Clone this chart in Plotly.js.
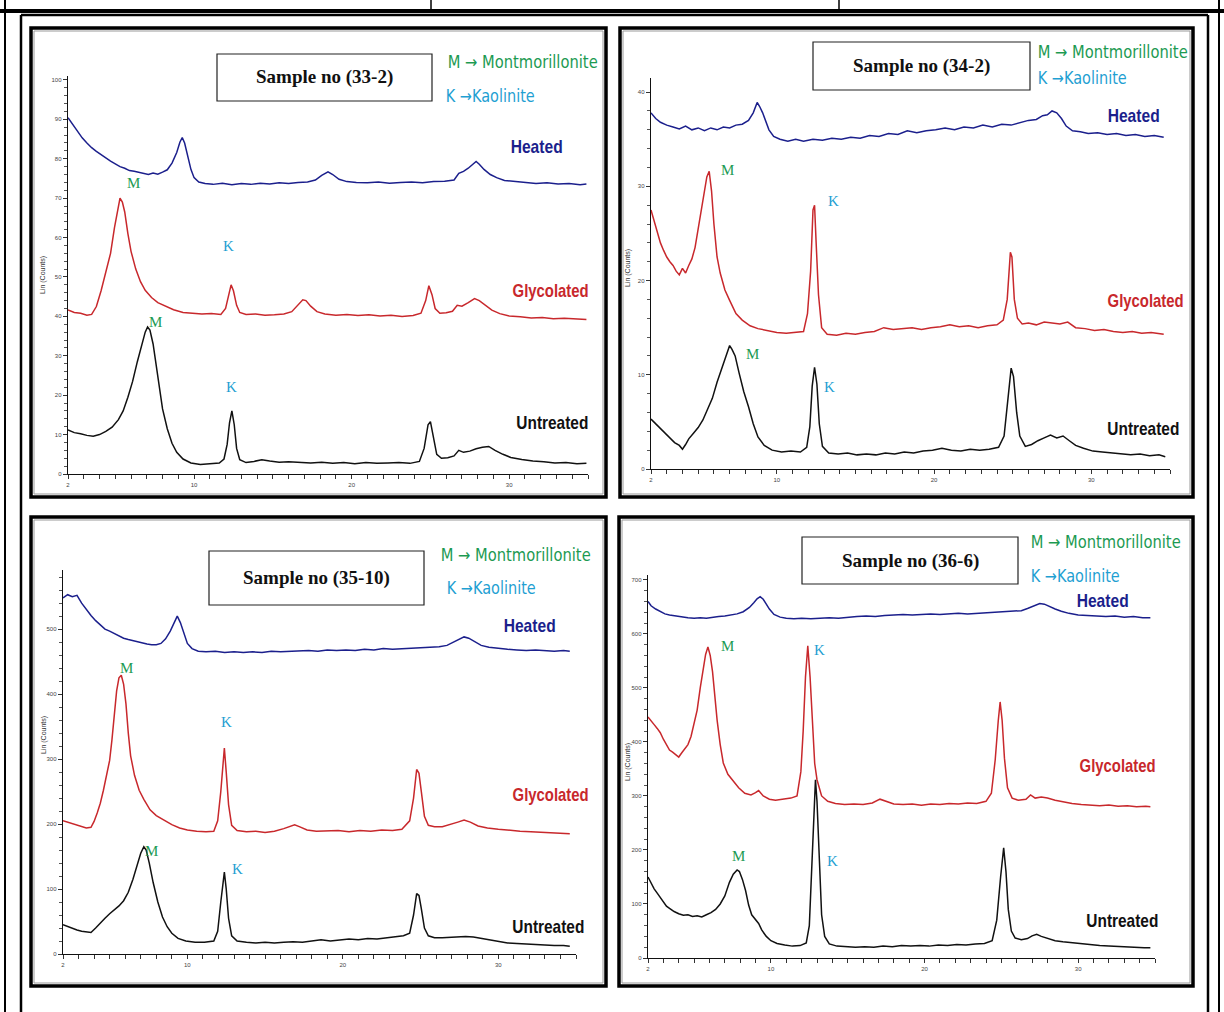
<!DOCTYPE html>
<html><head><meta charset="utf-8">
<script src="https://cdn.plot.ly/plotly-3.0.1.min.js"></script>
<style>html,body{margin:0;padding:0;background:#fff;}#chart{width:1224px;height:1012px;}</style>
</head><body><div id="chart"></div>
<script>
// ---------- DATA (2θ degrees, Lin counts) ----------
const sampleNames = ["Sample no (33-2)", "Sample no (34-2)", "Sample no (35-10)", "Sample no (36-6)"];
const seriesNames = ["Heated", "Glycolated", "Untreated"];
const xTickVals = [2, 10, 20, 30];
const xTickText = ["2", "10", "20", "30"];

// Panel 1 (33-2)
const p1HeatX = [2.0,2.3,2.6,2.9,3.2,3.5,3.8,4.1,4.4,4.7,5.0,5.3,5.6,5.9,6.2,6.5,6.8,7.1,7.4,7.7,8.0,8.3,8.6,8.9,9.1,9.25,9.4,9.6,9.8,10.0,10.3,10.7,11.2,11.8,12.4,13.0,13.6,14.2,14.8,15.4,16.0,16.6,17.2,17.7,18.1,18.5,18.8,19.2,19.7,20.3,21.0,21.7,22.4,23.1,23.8,24.5,25.2,25.9,26.5,26.8,27.1,27.4,27.7,27.9,28.1,28.4,28.8,29.2,29.7,30.3,31.0,31.7,32.4,33.1,33.8,34.5,34.9];
const p1HeatY = [90.4,88.6,86.9,85.3,84.0,82.8,81.9,81.0,80.1,79.4,78.7,78.0,77.6,77.0,76.8,76.5,76.3,76.0,76.4,76.1,76.6,77.2,78.9,81.6,84.2,85.4,84.0,80.5,77.3,75.2,74.1,73.7,73.5,73.8,73.4,73.7,73.5,73.8,73.6,73.9,73.7,74.0,74.1,74.6,75.8,76.7,76.0,74.8,74.2,74.0,73.9,74.1,73.8,74.0,74.1,73.9,74.2,74.3,74.6,76.3,76.8,77.6,78.6,79.3,78.6,77.3,76.0,75.2,74.5,74.3,74.0,73.7,73.9,73.6,73.7,73.4,73.6];
const p1GlyX = [2.0,2.4,2.8,3.2,3.5,3.8,4.1,4.4,4.7,4.95,5.15,5.3,5.45,5.6,5.8,6.0,6.3,6.6,6.9,7.3,7.7,8.2,8.7,9.3,9.9,10.5,11.1,11.7,12.0,12.2,12.35,12.5,12.7,12.9,13.3,13.9,14.5,15.1,15.7,16.2,16.6,16.9,17.1,17.4,17.8,18.3,19.0,19.7,20.4,21.1,21.8,22.5,23.2,23.9,24.4,24.7,24.9,25.1,25.3,25.6,26.0,26.4,26.7,27.0,27.4,27.8,28.1,28.5,28.9,29.4,30.0,30.7,31.4,32.1,32.8,33.5,34.2,34.9];
const p1GlyY = [41.6,41.0,40.8,40.3,40.5,42.5,46.5,51.0,56.0,62.5,67.0,70.0,69.0,66.5,61.0,56.5,52.0,48.8,46.6,44.8,43.5,42.5,41.7,41.0,40.8,40.6,40.7,40.5,42.0,45.5,48.0,46.5,42.8,41.0,40.5,40.6,40.3,40.4,40.6,41.2,42.8,44.2,44.0,42.6,41.2,40.6,40.3,40.5,40.2,40.4,40.1,40.3,40.0,40.2,40.8,44.0,47.8,45.5,42.0,40.8,40.9,41.3,42.8,42.6,43.5,44.5,44.0,42.8,41.6,40.7,40.1,39.9,39.6,39.7,39.4,39.5,39.3,39.2];
const p1UntX = [2.0,2.4,2.8,3.2,3.6,4.0,4.4,4.8,5.2,5.5,5.8,6.1,6.4,6.7,6.9,7.05,7.2,7.4,7.6,7.8,8.0,8.3,8.6,8.9,9.3,9.8,10.4,11.0,11.6,11.9,12.1,12.25,12.4,12.55,12.7,12.9,13.3,13.8,14.3,14.8,15.4,16.0,16.7,17.4,18.1,18.8,19.5,20.2,20.9,21.6,22.3,23.0,23.7,24.3,24.6,24.85,25.0,25.2,25.4,25.7,26.1,26.5,26.8,27.1,27.5,27.9,28.3,28.7,29.1,29.6,30.1,30.8,31.5,32.2,32.9,33.6,34.3,34.9];
const p1UntY = [11.2,10.5,10.2,9.8,9.6,10.0,10.8,11.9,13.8,16.0,19.5,23.5,28.5,33.0,36.0,37.3,36.5,33.0,27.5,21.5,16.5,11.5,7.8,5.5,3.8,2.8,2.4,2.6,2.8,3.8,7.5,13.0,16.0,12.5,6.5,3.6,2.9,3.2,3.6,3.3,3.0,3.1,2.9,2.8,3.0,2.7,2.9,2.6,2.9,2.7,2.8,2.9,2.7,3.2,6.5,12.5,13.3,9.0,5.0,4.0,4.1,4.6,6.0,5.5,5.8,6.4,6.8,7.0,6.0,5.0,4.2,3.7,3.3,3.1,2.8,2.9,2.6,2.7];

// Panel 2 (34-2)
const p2HeatX = [2.0,2.3,2.6,3.0,3.4,3.8,4.2,4.6,5.0,5.4,5.8,6.2,6.6,7.0,7.4,7.8,8.2,8.5,8.75,8.9,9.1,9.3,9.5,9.8,10.2,10.7,11.2,11.7,12.3,12.9,13.5,14.1,14.7,15.3,15.9,16.5,17.1,17.7,18.3,18.9,19.5,20.1,20.7,21.3,21.9,22.5,23.1,23.7,24.3,24.9,25.5,26.0,26.5,26.9,27.2,27.5,27.8,28.1,28.4,28.8,29.3,29.8,30.4,31.0,31.6,32.2,32.8,33.4,34.0,34.6];
const p2HeatY = [37.8,37.2,36.8,36.5,36.3,36.1,36.4,36.0,36.2,35.9,36.2,36.0,36.3,36.2,36.5,36.6,37.0,37.8,38.9,38.5,37.8,36.9,36.0,35.3,35.0,34.8,35.0,34.8,35.0,34.9,35.1,35.0,35.2,35.1,35.4,35.3,35.6,35.5,35.9,35.7,35.9,36.0,36.2,36.0,36.3,36.2,36.5,36.3,36.6,36.5,36.8,37.0,37.1,37.5,37.6,38.0,37.8,37.2,36.4,35.9,35.8,35.6,35.7,35.5,35.6,35.4,35.5,35.3,35.4,35.2];
const p2GlyX = [2.0,2.2,2.4,2.6,2.8,3.0,3.2,3.4,3.6,3.8,4.0,4.2,4.4,4.6,4.8,5.0,5.2,5.4,5.55,5.7,5.85,6.0,6.2,6.4,6.7,7.0,7.4,7.8,8.3,8.8,9.4,10.0,10.6,11.2,11.7,11.95,12.15,12.3,12.4,12.5,12.65,12.85,13.2,13.8,14.4,15.0,15.6,16.2,16.8,17.4,18.0,18.6,19.2,19.8,20.4,21.0,21.6,22.2,22.8,23.4,24.0,24.4,24.65,24.85,24.95,25.1,25.3,25.6,26.0,26.5,27.0,27.5,28.0,28.5,29.0,29.6,30.2,30.8,31.4,32.0,32.6,33.2,33.8,34.6];
const p2GlyY = [27.5,26.3,25.0,24.0,23.2,22.5,22.0,21.6,21.0,20.6,21.3,20.8,21.6,22.3,23.5,25.5,27.8,29.5,31.0,31.6,29.5,26.0,22.5,20.8,19.0,17.9,16.5,15.8,15.2,14.9,14.7,14.5,14.4,14.5,14.6,16.5,21.0,27.5,28.0,24.0,18.5,15.0,14.3,14.2,14.4,14.3,14.5,14.6,15.0,14.8,14.9,15.0,14.8,15.0,15.1,15.3,15.1,15.2,15.0,15.2,15.3,15.8,18.0,23.0,22.5,18.0,16.0,15.4,15.5,15.3,15.6,15.5,15.4,15.6,15.0,14.9,14.7,14.8,14.6,14.5,14.6,14.4,14.5,14.3];
const p2UntX = [2.0,2.3,2.6,2.9,3.2,3.5,3.8,4.0,4.2,4.4,4.7,5.0,5.3,5.6,5.9,6.2,6.5,6.8,7.0,7.15,7.35,7.6,7.9,8.2,8.5,8.8,9.2,9.7,10.3,10.9,11.5,11.9,12.1,12.25,12.4,12.55,12.7,12.9,13.3,13.9,14.5,15.1,15.7,16.3,16.9,17.5,18.1,18.7,19.3,19.9,20.5,21.1,21.7,22.3,22.9,23.5,24.1,24.45,24.7,24.9,25.05,25.25,25.45,25.8,26.2,26.6,27.0,27.4,27.8,28.2,28.6,29.0,29.5,30.1,30.7,31.3,31.9,32.5,33.1,33.7,34.3,34.7];
const p2UntY = [5.3,4.8,4.3,3.9,3.4,2.8,2.5,2.1,2.6,3.2,3.8,4.4,5.2,6.3,7.5,9.2,10.6,12.2,13.1,12.7,12.0,10.2,8.2,6.6,4.8,3.4,2.5,2.0,1.8,1.9,1.8,2.3,4.5,8.8,10.8,9.0,4.8,2.4,1.7,1.6,1.7,1.5,1.6,1.5,1.7,1.6,1.8,1.7,1.9,2.0,2.2,2.0,1.9,2.1,2.0,2.1,2.3,3.5,7.5,10.7,9.8,6.0,3.5,2.4,2.6,3.0,3.3,3.6,3.3,3.5,3.0,2.5,2.2,1.9,1.8,1.7,1.6,1.5,1.6,1.4,1.5,1.3];

// Panel 3 (35-10)
const p3HeatX = [2.0,2.3,2.6,2.9,3.2,3.5,3.8,4.1,4.4,4.7,5.0,5.3,5.6,5.9,6.2,6.5,6.8,7.1,7.4,7.7,8.0,8.3,8.6,8.9,9.15,9.35,9.55,9.75,10.0,10.3,10.7,11.2,11.8,12.4,13.0,13.6,14.2,14.8,15.4,16.0,16.6,17.2,17.8,18.4,19.0,19.6,20.2,20.8,21.4,22.0,22.6,23.2,23.8,24.4,25.0,25.6,26.2,26.7,27.1,27.5,27.8,28.1,28.5,28.9,29.4,30.0,30.6,31.2,31.8,32.4,33.0,33.6,34.2,34.6];
const p3HeatY = [548,553,550,552,540,530,521,513,506,500,497,493,490,486,484,482,480,478,477,476,476,478,485,497,510,520,510,494,478,470,466,465,466,464,465,464,465,464,466,465,466,466,467,466,468,467,468,467,469,468,470,469,470,470,471,472,473,475,480,485,488,486,480,475,472,470,469,468,467,468,467,466,467,466];
const p3GlyX = [2.0,2.3,2.6,2.9,3.2,3.5,3.8,4.0,4.2,4.4,4.6,4.8,5.0,5.15,5.3,5.45,5.6,5.75,5.9,6.05,6.2,6.35,6.6,6.9,7.2,7.6,8.0,8.5,9.0,9.5,10.0,10.6,11.2,11.7,11.95,12.15,12.3,12.38,12.5,12.65,12.85,13.2,13.8,14.4,15.0,15.6,16.2,16.6,16.9,17.2,17.7,18.3,19.0,19.7,20.4,21.1,21.8,22.5,23.2,23.8,24.3,24.55,24.75,24.9,25.05,25.25,25.5,25.9,26.4,26.9,27.4,27.8,28.2,28.7,29.3,30.0,30.7,31.4,32.1,32.8,33.5,34.2,34.6];
const p3GlyY = [205,203,200,198,196,194,195,204,217,232,252,275,298,330,365,405,425,429,415,385,340,305,275,252,238,222,213,206,199,194,191,189,188,189,205,250,300,317,280,230,198,190,188,189,187,189,193,197,199,196,191,189,189,190,188,190,189,191,190,192,205,240,284,278,250,212,198,196,196,199,203,206,203,197,194,192,190,189,188,187,186,186,185];
const p3UntX = [2.0,2.3,2.6,2.9,3.2,3.5,3.8,4.1,4.4,4.7,5.0,5.3,5.6,5.9,6.2,6.5,6.75,7.0,7.2,7.35,7.55,7.8,8.1,8.4,8.7,9.0,9.4,9.9,10.5,11.1,11.7,11.95,12.15,12.3,12.38,12.5,12.65,12.85,13.2,13.8,14.4,15.0,15.6,16.2,16.8,17.4,18.0,18.6,19.2,19.8,20.4,21.0,21.6,22.2,22.8,23.4,23.9,24.3,24.55,24.75,24.9,25.05,25.25,25.5,25.9,26.4,26.9,27.4,27.9,28.4,28.9,29.4,30.0,30.6,31.2,31.8,32.4,33.0,33.6,34.2,34.6];
const p3UntY = [45,42,40,37,35,34,33,40,48,55,62,68,74,82,95,115,135,155,165,160,140,110,80,57,42,32,24,20,18,18,20,35,80,118,126,100,55,28,20,18,17,18,17,18,19,18,20,22,20,21,23,22,24,23,25,26,28,32,60,93,90,70,40,28,25,25,26,26,27,26,24,22,19,17,16,15,15,14,13,13,12];

// Panel 4 (36-6)
const p4HeatX = [2.0,2.2,2.5,2.8,3.1,3.4,3.8,4.2,4.6,5.0,5.4,5.8,6.2,6.6,7.0,7.4,7.8,8.2,8.6,8.9,9.1,9.3,9.5,9.7,9.9,10.2,10.6,11.0,11.5,12.0,12.6,13.2,13.8,14.4,15.0,15.6,16.2,16.8,17.4,18.0,18.6,19.2,19.8,20.4,21.0,21.6,22.2,22.8,23.4,24.0,24.6,25.2,25.8,26.3,26.7,27.1,27.5,27.8,28.1,28.5,28.9,29.4,30.0,30.6,31.2,31.8,32.4,33.0,33.6,34.2,34.7];
const p4HeatY = [660,652,646,641,637,635,633,631,630,629,630,629,631,632,633,635,637,641,649,658,665,669,664,655,646,636,631,629,628,629,628,629,630,629,631,632,633,632,634,635,636,635,636,637,636,637,638,637,638,639,639,640,641,643,647,652,656,655,651,646,642,638,635,634,633,632,633,631,632,630,630];
const p4GlyX = [2.0,2.2,2.4,2.6,2.8,3.0,3.2,3.4,3.6,3.8,4.0,4.2,4.4,4.6,4.8,5.0,5.2,5.4,5.6,5.75,5.9,6.05,6.2,6.35,6.5,6.7,6.9,7.2,7.5,7.9,8.3,8.7,9.0,9.2,9.5,9.9,10.3,10.8,11.3,11.7,11.95,12.1,12.25,12.4,12.55,12.7,12.85,13.0,13.3,13.7,14.2,14.8,15.4,16.0,16.6,17.1,17.5,18.0,18.6,19.2,19.8,20.4,21.0,21.6,22.2,22.8,23.4,24.0,24.35,24.6,24.8,24.92,25.05,25.2,25.4,25.7,26.1,26.6,26.9,27.2,27.6,28.0,28.5,29.0,29.6,30.2,30.8,31.4,32.0,32.6,33.2,33.8,34.4,34.7];
const p4GlyY = [446,440,432,425,417,405,395,385,381,376,372,380,388,395,410,432,459,500,540,562,576,560,530,485,440,395,361,340,330,315,305,302,306,310,300,294,292,294,296,300,345,420,520,578,520,440,360,330,300,290,286,284,285,284,287,294,290,285,284,285,283,285,284,286,285,287,286,290,305,367,440,474,440,370,315,296,292,294,302,296,298,296,292,289,286,284,283,282,283,281,282,280,281,280];
const p4UntX = [2.0,2.2,2.4,2.6,2.8,3.0,3.2,3.4,3.7,4.0,4.3,4.6,4.9,5.2,5.5,5.8,6.1,6.4,6.7,7.0,7.3,7.55,7.8,7.95,8.15,8.35,8.55,8.75,9.0,9.2,9.4,9.7,10.0,10.4,10.9,11.4,11.9,12.3,12.5,12.65,12.8,12.9,13.0,13.15,13.3,13.5,13.8,14.3,14.9,15.5,16.1,16.7,17.3,17.9,18.5,19.1,19.7,20.3,20.9,21.5,22.1,22.7,23.3,23.9,24.4,24.7,24.95,25.15,25.3,25.45,25.65,25.9,26.3,26.7,27.0,27.3,27.6,28.0,28.5,29.0,29.6,30.2,30.8,31.4,32.0,32.6,33.2,33.8,34.3,34.7];
const p4UntY = [150,138,128,120,112,103,96,92,86,82,79,80,77,78,76,80,84,90,100,115,140,155,163,160,145,125,98,80,70,64,52,40,32,27,24,22,23,28,60,160,270,330,290,180,80,40,26,22,21,20,21,20,22,21,23,22,23,22,24,23,25,24,26,27,32,70,150,204,160,90,50,37,34,36,41,44,40,36,32,30,28,26,24,23,22,21,21,20,19,19];

// ---------- LAYOUT HELPERS ----------
const W = 1224, H = 1012;
const px = v => v / W;
const py = v => 1 - v / H;

const panels = [
  {xd:[68,588],  yd:[76,474],  yr:[0,101],  ydt:10,  ymin:2,  data:[[p1HeatX,p1HeatY],[p1GlyX,p1GlyY],[p1UntX,p1UntY]]},
  {xd:[651,1170],yd:[78,469],  yr:[0,41.5], ydt:10,  ymin:2,  data:[[p2HeatX,p2HeatY],[p2GlyX,p2GlyY],[p2UntX,p2UntY]]},
  {xd:[63,576],  yd:[570,954], yr:[0,591],  ydt:100, ymin:20, data:[[p3HeatX,p3HeatY],[p3GlyX,p3GlyY],[p3UntX,p3UntY]]},
  {xd:[648,1155],yd:[575,958], yr:[0,709],  ydt:100, ymin:20, data:[[p4HeatX,p4HeatY],[p4GlyX,p4GlyY],[p4UntX,p4UntY]]}
];
const colors = ["#1b1f8c", "#c8282c", "#111111"];

const traces = [];
const layout = {
  width: W, height: H, margin: {l:0, r:0, t:0, b:0},
  paper_bgcolor: "#fff", plot_bgcolor: "rgba(0,0,0,0)",
  showlegend: false, shapes: [], annotations: []
};

panels.forEach((p, i) => {
  const n = i === 0 ? "" : String(i + 1);
  p.data.forEach((d, k) => {
    traces.push({x: d[0], y: d[1], type: "scatter", mode: "lines",
      line: {color: colors[k], width: 1.5}, xaxis: "x" + n, yaxis: "y" + n, hoverinfo: "skip"});
  });
  layout["xaxis" + n] = {
    domain: [px(p.xd[0]), px(p.xd[1])], range: [2, 35], anchor: "y" + n,
    showgrid: false, zeroline: false, showline: true, linecolor: "#111", linewidth: 1.3,
    ticks: "outside", ticklen: 4, tickcolor: "#333", tickwidth: 1,
    tickmode: "array", tickvals: xTickVals, ticktext: xTickText,
    tickfont: {size: 6, color: "#444", family: "Arial, Liberation Sans, sans-serif"},
    minor: {tickmode: "linear", tick0: 0, dtick: 1, ticks: "outside", ticklen: 4, tickcolor: "#333", showgrid: false},
    fixedrange: true
  };
  layout["yaxis" + n] = {
    domain: [py(p.yd[1]), py(p.yd[0])], range: p.yr, anchor: "x" + n,
    showgrid: false, zeroline: false, showline: true, linecolor: "#111", linewidth: 1.3,
    ticks: "outside", ticklen: 4, tickcolor: "#333", dtick: p.ydt, tick0: 0,
    tickfont: {size: 6, color: "#444", family: "Arial, Liberation Sans, sans-serif"},
    minor: {dtick: p.ymin, tick0: 0, ticks: "outside", ticklen: 2.5, tickcolor: "#555", showgrid: false},
    fixedrange: true
  };
});

// ---------- FRAMES ----------
const S = layout.shapes;
function line(x0, y0, x1, y1, w, c) {
  S.push({type: "line", xref: "paper", yref: "paper", x0: px(x0), y0: py(y0), x1: px(x1), y1: py(y1), line: {color: c || "#000", width: w}});
}
function rect(x0, y0, x1, y1, w, c) {
  S.push({type: "rect", xref: "paper", yref: "paper", x0: px(x0), y0: py(y0), x1: px(x1), y1: py(y1), line: {color: c || "#000", width: w}, fillcolor: "rgba(0,0,0,0)"});
}
line(0, 11, W, 11, 4);
line(5, 0, 5, H, 2);
line(1219, 0, 1219, H, 2);
line(431, 0, 431, 11, 1.5);
line(839, 0, 839, 11, 1.5);
line(21, 15, 1208, 15, 2.5);
line(21, 15, 21, H, 2.5);
line(1208, 15, 1208, H, 2.5);
const borders = [[31,28,606,497],[620,28,1193,497],[31,517,606,986],[619,517,1193,986]];
borders.forEach(b => { rect(b[0]+3, b[1]+3, b[2]-3, b[3]-3, 1, "#999"); rect(b[0], b[1], b[2], b[3], 3.5, "#000"); });
const boxes = [[217,54,432,101],[813,42,1030,90],[209,551,424,605],[802,537,1018,584]];
boxes.forEach(b => rect(b[0], b[1], b[2], b[3], 1.2, "#222"));

// ---------- TEXT ----------
const A = layout.annotations;
function txt(x, y, t, opt) {
  A.push(Object.assign({xref: "paper", yref: "paper", x: px(x), y: py(y), text: t, showarrow: false,
    xanchor: "center", yanchor: "middle"}, opt));
}
const serifBold = {family: "Liberation Serif, Times New Roman, serif", size: 19, color: "#111", weight: "bold"};
const sans = "Liberation Sans, Arial, sans-serif";
const legendFont = "DejaVu Sans, Liberation Sans, sans-serif";
const mColor = "#1c9a52", kColor = "#1fa0d2";

boxes.forEach((b, i) => txt((b[0]+b[2])/2, (b[1]+b[3])/2, "<b>" + sampleNames[i] + "</b>", {font: serifBold}));

const legendM = [[522,62],[1112,52],[515,555],[1105,542]];
const legendK = [[490,96],[1082,78],[491,588],[1075,576]];
legendM.forEach(l => txt(l[0], l[1], "M \u2192 Montmorillonite", {font: {family: legendFont, size: 17, color: mColor}}));
legendK.forEach(l => txt(l[0], l[1], "K \u2192Kaolinite", {font: {family: legendFont, size: 17, color: kColor}}));

const labelPos = [
  [[536,147],[550,290],[552,422]],
  [[1133,115],[1145,300],[1143,428]],
  [[529,625],[550,794],[548,926]],
  [[1102,600],[1117,765],[1122,920]]
];
const labelColors = ["#1b1f8c", "#c8282c", "#111"];
labelPos.forEach(pp => pp.forEach((q, k) =>
  txt(q[0], q[1], "<b>" + seriesNames[k] + "</b>", {font: {family: sans, size: 19, color: labelColors[k]}})));

const peakPos = [
  [[133,183,"M"],[228,246,"K"],[155,322,"M"],[231,387,"K"]],
  [[727,170,"M"],[833,201,"K"],[752,354,"M"],[829,387,"K"]],
  [[126,668,"M"],[226,722,"K"],[151,851,"M"],[237,869,"K"]],
  [[727,646,"M"],[820,650,"K"],[738,856,"M"],[832,861,"K"]]
];
peakPos.forEach(pp => pp.forEach(q =>
  txt(q[0], q[1], q[2], {font: {family: "Liberation Serif, Times New Roman, serif", size: 15, color: q[2] === "M" ? mColor : kColor}})));

const yTitlePos = [[43,275],[628,268],[44,735],[628,762]];
yTitlePos.forEach(q => txt(q[0], q[1], "Lin (Counts)", {textangle: -90, font: {family: "Arial, Liberation Sans, sans-serif", size: 7, color: "#333"}}));

// target text widths (condensed look of the original lettering)
const textWidths = {"Heated": 52, "Glycolated": 76, "Untreated": 72, "M \u2192 Montmorillonite": 150, "K \u2192Kaolinite": 89};

Plotly.newPlot("chart", traces, layout, {staticPlot: true, displayModeBar: false}).then(() => {
  document.querySelectorAll("#chart .annotation-text").forEach(el => {
    const w = textWidths[el.textContent];
    if (w) { el.setAttribute("textLength", w); el.setAttribute("lengthAdjust", "spacingAndGlyphs"); }
  });
});
</script>
</body></html>
